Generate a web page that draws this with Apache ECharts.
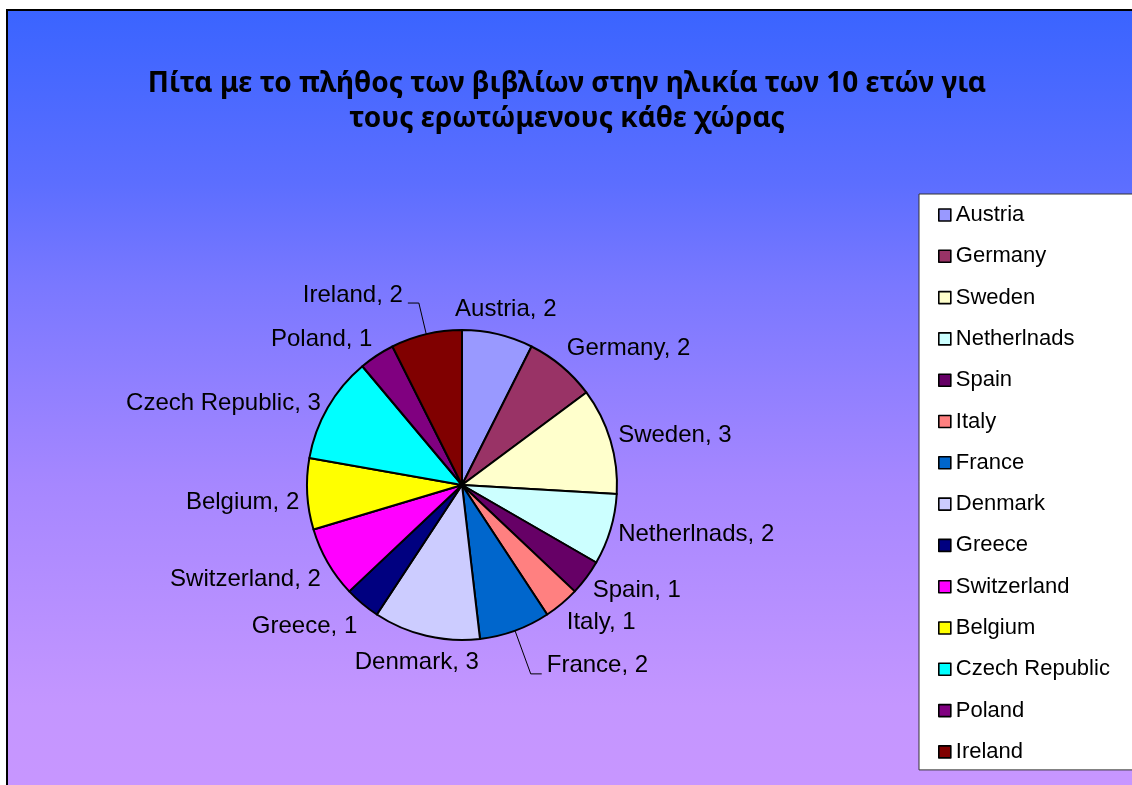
<!DOCTYPE html>
<html>
<head>
<meta charset="utf-8">
<script src="https://cdn.jsdelivr.net/npm/echarts@6/dist/echarts.min.js"></script>
<style>
  html, body { margin: 0; padding: 0; background: #ffffff; }
  #chart { width: 1132px; height: 785px; }
</style>
</head>
<body>
<div id="chart"></div>
<script>
// Countries in slice order (clockwise from 12 o'clock)
const countries = [
  'Austria', 'Germany', 'Sweden', 'Netherlnads', 'Spain', 'Italy', 'France',
  'Denmark', 'Greece', 'Switzerland', 'Belgium', 'Czech Republic', 'Poland', 'Ireland'
];
// Number of books at the age of 10
const books = [2, 2, 3, 2, 1, 1, 2, 3, 1, 2, 2, 3, 1, 2];
const sliceColors = [
  '#9999ff', '#993366', '#ffffcc', '#ccffff', '#660066', '#ff8080', '#0066cc',
  '#ccccff', '#000080', '#ff00ff', '#ffff00', '#00ffff', '#800080', '#800000'
];
const titleLines = [
  'Πίτα με το πλήθος των βιβλίων στην ηλικία των 10 ετών για',
  'τους ερωτώμενους κάθε χώρας'
];

const PIE_CENTER = [462, 485];
const PIE_RADIUS = 155;
const LABEL_FONT = 24;
// labels that hang off a leader line, with the radial length of that line
const leaderLength = { 'Ireland': 32, 'France': 46 };

const total = books.reduce((a, b) => a + b, 0);
// mid-angle of every slice, clockwise from 12 o'clock, in radians
const midAngles = [];
(function () {
  let acc = 0;
  books.forEach(v => { midAngles.push((acc + v / 2) / total * 2 * Math.PI); acc += v; });
})();

// Labels sit just outside the rim, slid sideways/vertically depending on the slice direction
function placeLabel(p) {
  const i = p.dataIndex;
  const a = midAngles[i];
  const ux = Math.sin(a), uy = -Math.cos(a);
  const cx = PIE_CENTER[0], cy = PIE_CENTER[1];
  const half = 0.34 * LABEL_FONT;
  const lead = leaderLength[countries[i]];
  if (lead) {
    const ex = cx + ux * PIE_RADIUS, ey = cy + uy * PIE_RADIUS;
    const bx = ex + ux * lead, by = ey + uy * lead;
    const dir = ux >= 0 ? 1 : -1;
    const hx = bx + dir * 11;
    return {
      x: hx + dir * 5, y: by - half,
      align: dir > 0 ? 'left' : 'right', verticalAlign: 'middle',
      labelLinePoints: [[ex, ey], [bx, by], [hx, by]]
    };
  }
  const r = PIE_RADIUS + 8;
  const px = cx + ux * r, py = cy + uy * r;
  const fx = Math.sign(ux) * Math.min(1, Math.max(0, (Math.abs(ux) - 0.2) * 4));
  const fy = 2.2 * uy * Math.sqrt(Math.abs(uy)) + 0.9 * Math.max(0, -ux);
  return {
    x: px + fx * p.labelRect.width / 2,
    y: py + fy * half,
    align: 'center', verticalAlign: 'middle'
  };
}

const pieData = countries.map((name, i) => ({
  name: name,
  value: books[i],
  itemStyle: { color: sliceColors[i] },
  labelLine: { show: !!leaderLength[name] }
}));

const chart = echarts.init(document.getElementById('chart'), null, { renderer: 'canvas' });

chart.setOption({
  animation: false,
  graphic: [{
    type: 'rect',
    z: -10,
    shape: { x: 7, y: 10, width: 1140, height: 790 },
    style: {
      fill: new echarts.graphic.LinearGradient(0, 0, 0, 1, [
        { offset: 0, color: '#3a64ff' },
        { offset: 0.22, color: '#5c6eff' },
        { offset: 0.35, color: '#7a78ff' },
        { offset: 0.6, color: '#a687ff' },
        { offset: 0.88, color: '#c496ff' },
        { offset: 1, color: '#c896ff' }
      ]),
      stroke: '#000000',
      lineWidth: 2
    }
  }],
  title: {
    text: titleLines.join('\n'),
    left: 562,
    top: 62,
    textAlign: 'center',
    textStyle: {
      fontFamily: 'Noto Sans',
      fontWeight: 'bold',
      fontSize: 28,
      lineHeight: 35,
      color: '#000000'
    }
  },
  legend: {
    orient: 'vertical',
    left: 919,
    top: 194,
    backgroundColor: '#ffffff',
    borderColor: '#333333',
    borderWidth: 1,
    padding: [10, 200, 7, 19],
    itemWidth: 12,
    itemHeight: 12,
    itemGap: 19.3,
    icon: 'rect',
    itemStyle: { borderColor: '#000000', borderWidth: 1.6 },
    textStyle: {
      fontFamily: 'Liberation Sans',
      fontSize: 22,
      color: '#000000'
    },
    data: countries
  },
  series: [{
    type: 'pie',
    center: PIE_CENTER,
    radius: PIE_RADIUS,
    startAngle: 90,
    clockwise: true,
    avoidLabelOverlap: false,
    itemStyle: { borderColor: '#000000', borderWidth: 2 },
    emphasis: { disabled: true },
    label: {
      show: true,
      position: 'outside',
      formatter: '{b}, {c}',
      fontFamily: 'Liberation Sans',
      fontSize: LABEL_FONT,
      color: '#000000'
    },
    labelLine: {
      length: 10,
      length2: 10,
      lineStyle: { color: '#000000', width: 1 }
    },
    labelLayout: placeLabel,
    data: pieData
  }]
});
</script>
</body>
</html>
